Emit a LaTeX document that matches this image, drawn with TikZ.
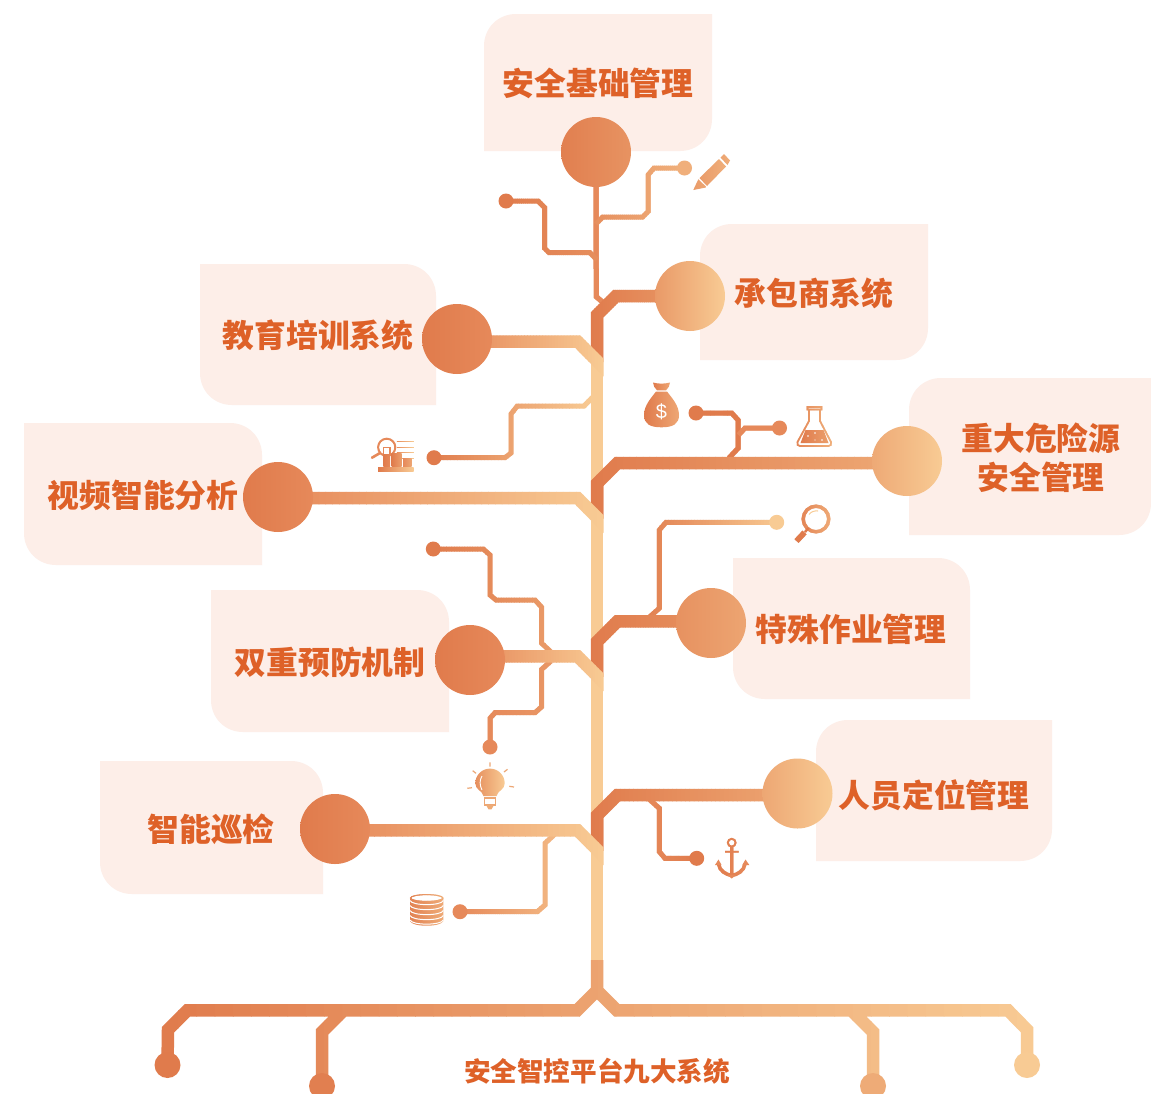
\documentclass[tikz,border=0pt]{standalone}
\usepackage{fontspec}
\newfontfamily\cjk{Noto Sans CJK SC}
\setsansfont{Liberation Sans}
\definecolor{cdark}{HTML}{E07B4C}
\definecolor{cmid}{HTML}{E6895A}
\definecolor{clight}{HTML}{F8CB94}
\definecolor{boxbg}{HTML}{FDEEE8}
\definecolor{txt}{HTML}{DE6128}
\pgfdeclarelayer{bg}
\pgfdeclarelayer{lines}
\pgfsetlayers{bg,lines,main}
\newcommand{\gradstroke}[6]{%
  \pgfmathsetmacro\gsdx{(#2-#1)/48}%
  \foreach \gsi in {0,...,47}{%
    \pgfmathsetmacro\gsa{#1+\gsi*\gsdx}%
    \pgfmathsetmacro\gsb{\gsa+\gsdx+(\gsi<47?0.6:0)}%
    \pgfmathsetmacro\gsp{(\gsi+.5)/48*100}%
    \colorlet{gscol}{#4!\gsp!#3}%
    \begin{scope}
      \clip (\gsa,-50) rectangle (\gsb,1200);
      \draw[gscol,line width=#5,miter limit=10] #6;
    \end{scope}%
  }}
% leaf boxes: x0 y0 x1 y1
\newcommand{\leafA}[4]{% top-left and bottom-right rounded
  \fill[boxbg] (#1,#4) -- (#1,{#2+32}) .. controls (#1,{#2+14}) and ({#1+14},#2) .. ({#1+32},#2)
   -- (#3,#2) -- (#3,{#4-32}) .. controls (#3,{#4-14}) and ({#3-14},#4) .. ({#3-32},#4) -- cycle;}
\newcommand{\leafB}[4]{% top-right and bottom-left rounded
  \fill[boxbg] (#1,#2) -- ({#3-32},#2) .. controls ({#3-14},#2) and (#3,{#2+14}) .. (#3,{#2+32})
   -- (#3,#4) -- ({#1+32},#4) .. controls ({#1+14},#4) and (#1,{#4-14}) .. (#1,{#4-32}) -- cycle;}
\tikzset{
  label/.style={text=txt,font=\cjk\bfseries\fontsize{31.8}{39}\selectfont,align=center,inner sep=0},
  hub/.style={circle,inner sep=0,outer sep=0,minimum size=70},
  dotend/.style={circle,inner sep=0,outer sep=0,minimum size=15},
  footdot/.style={circle,inner sep=0,outer sep=0,minimum size=26}
}
\begin{document}
\begin{tikzpicture}[x=1pt,y=-1pt]
\useasboundingbox (0,0) rectangle (1151,1093);
\begin{pgfonlayer}{bg}
\fill[white] (0,0) rectangle (1151,1093);
\leafA{484}{14}{712}{151}
\leafA{700}{224}{928}{360}
\leafB{200}{264}{436}{405}
\leafB{24}{423}{262}{565}
\leafA{909}{378}{1151}{535}
\leafB{733}{558}{970}{699}
\leafB{211}{590}{449}{732}
\leafA{816}{720}{1052}{861}
\leafB{100}{761}{323}{894}
\end{pgfonlayer}
% labels
\node[label] (t1) at (598,83) {安全基础管理};
\node[label] (t2) at (814,293) {承包商系统};
\node[label] (t3) at (318,335) {教育培训系统};
\node[label] (t4) at (143,495) {视频智能分析};
\node[label] (t5) at (1041,457.5) {重大危险源\\安全管理};
\node[label] (t6) at (851,629) {特殊作业管理};
\node[label] (t7) at (330,662) {双重预防机制};
\node[label] (t8) at (934,795) {人员定位管理};
\node[label] (t9) at (211,829) {智能巡检};
\node[text=txt,font=\cjk\bfseries\fontsize{26.6}{30}\selectfont,inner sep=0] (t0) at (597,1071) {安全智控平台九大系统};
% hubs
\node[hub,left color=cdark!95!clight,right color=cdark!70!clight] (hTop) at (596,152) {};
\node[hub,left color=cdark!62!clight,right color=clight] (hContract) at (690,296) {};
\node[hub,left color=cdark,right color=cmid] (hEdu) at (457,339) {};
\node[hub,left color=cdark,right color=cmid] (hVideo) at (278,497) {};
\node[hub,left color=cdark!42!clight,right color=clight] (hMajor) at (907,461) {};
\node[hub,left color=cdark!72!clight,right color=cdark!48!clight] (hSpecial) at (711,623) {};
\node[hub,left color=cdark,right color=cmid] (hPrevent) at (470,660) {};
\node[hub,left color=cdark!45!clight,right color=clight] (hPerson) at (797.5,793.5) {};
\node[hub,left color=cdark,right color=cmid] (hPatrol) at (335,829) {};
% small dots
\node[dotend,fill=cdark] (dA) at (506,201) {};
\node[dotend,fill=cdark!35!clight] (dB) at (684.5,168) {};
\node[dotend,fill=cdark] (dChart) at (434,457.7) {};
\node[dotend,fill=cdark] (dMoney) at (696,413) {};
\node[dotend,fill=cmid] (dFlask) at (779.5,428) {};
\node[dotend,fill=clight] (dSearch) at (776.7,522.3) {};
\node[dotend,fill=cdark] (dUp) at (433.3,549) {};
\node[dotend,fill=cmid] (dBulb) at (490,747) {};
\node[dotend,fill=cdark] (dAnchor) at (696.7,858.3) {};
\node[dotend,fill=cmid] (dCoins) at (460,911.7) {};
% foot dots
\node[footdot,fill=cdark] (f1) at (167.5,1065) {};
\node[footdot,fill=cdark!95!clight] (f2) at (322,1086) {};
\node[footdot,fill=cdark!40!clight] (f3) at (873,1086) {};
\node[footdot,fill=clight] (f4) at (1027,1065) {};
% junction coordinates
\coordinate (trunkTop) at (597,362);
\coordinate (trunkBot) at (597,960);
\begin{pgfonlayer}{lines}
% thin twigs
\gradstroke{590}{610}{cmid}{cmid}{5}{(hTop.center) -- (596.3,296.7) -- (606,305)}
\gradstroke{498}{599}{cdark}{cdark!75!clight}{5}{(dA.center) -- (538,201) -- (544.5,207.5) -- (544.5,248) -- (549,252.7) -- (590,252.7) -- (597,260)}
\gradstroke{594}{690}{cdark!75!clight}{cdark!40!clight}{5}{(dB.center) -- (654,168) -- (648,175) -- (648,211.7) -- (642.7,217) -- (602.7,217) -- (596,224)}
\gradstroke{430}{593}{cdark}{clight}{5}{(dChart.center) -- (505,457.7) -- (511,453) -- (511,414) -- (517.3,406) -- (584,406) -- (593,397)}
\gradstroke{690}{741}{cdark}{cdark}{5}{(dMoney.center) -- (731.7,413) -- (738,420) -- (738,448.3) -- (729,458)}
\gradstroke{737}{785}{cmid}{cmid}{5}{(dFlask.center) -- (745,428) -- (738.5,435)}
\gradstroke{645}{784}{cdark!95!clight}{clight}{5}{(dSearch.center) -- (666,522.3) -- (659.3,530) -- (659.3,608.3) -- (649.5,617)}
\gradstroke{428}{553}{cdark}{cdark!60!clight}{5}{(dUp.center) -- (483.3,549) -- (490,555) -- (490,595) -- (496,600) -- (535,600) -- (541.7,607.3) -- (541.7,643.3) -- (551,652)}
\gradstroke{485}{553}{cmid}{cdark!65!clight}{5}{(dBulb.center) -- (490,718.3) -- (495,712.7) -- (535,712.7) -- (541.7,706.7) -- (541.7,669.3) -- (551,661)}
\gradstroke{645}{700}{cmid}{cdark}{5}{(dAnchor.center) -- (665,858.3) -- (659.3,851.7) -- (659.3,808.3) -- (649,799)}
\gradstroke{455}{556}{cmid}{clight!70!cmid}{5}{(dCoins.center) -- (537.3,911.7) -- (545,905) -- (545,843.3) -- (555,834)}
% light trunk
\draw[clight,line width=12.5] (trunkTop) -- (trunkBot);
% right branches
\gradstroke{590}{690}{cdark}{cdark!62!clight}{12.5}{(hContract.center |- 0,296) -- (616,296) -- (597,315) -- (597,362)}
\gradstroke{590}{907}{cdark}{cdark!42!clight}{12.5}{(hMajor.center |- 0,463) -- (617.5,463) -- (597,483.5) -- (597,518.5)}
\gradstroke{590}{711}{cdark}{cdark!72!clight}{12.5}{(hSpecial.center |- 0,621.3) -- (617.5,621.3) -- (597,641.8) -- (597,676.8)}
\gradstroke{590}{797.5}{cdark}{cdark!45!clight}{12.5}{(hPerson.center |- 0,795) -- (617.5,795) -- (597,815.5) -- (597,850.8)}
% left branches
\gradstroke{457}{603.5}{cmid}{clight}{12.5}{(hEdu.center |- 0,341.5) -- (577.6,341.5) -- (610,374)}
\gradstroke{278}{603.5}{cmid}{clight}{12.5}{(hVideo.center |- 0,498) -- (577.6,498) -- (610,530.5)}
\gradstroke{470}{603.5}{cmid}{clight}{12.5}{(hPrevent.center |- 0,656.3) -- (577.6,656.3) -- (610,688.8)}
\gradstroke{335}{603.5}{cmid}{clight}{12.5}{(hPatrol.center |- 0,830.3) -- (577.6,830.3) -- (610,862.8)}
% foot
\gradstroke{160}{1035}{cdark}{clight}{12.5}{(f1.center) -- (168,1029.7) -- (187.4,1010.3) -- (577.2,1010.3) -- (597,990.5) -- (616.8,1010.3) -- (1008,1010.3) -- (1027,1029.7) -- (f4.center)
  (597,990.5) -- (trunkBot)
  (f2.center) -- (322,1032) -- (345,1009)
  (f3.center) -- (873,1032) -- (850,1009)}
\end{pgfonlayer}
% ---- icons ----
% pencil
\shade[left color=cdark!60!clight,right color=cdark!45!clight] (693.3,190) -- (698.3,179.3) -- (706.7,187.3) -- cycle;
\shade[left color=cdark!60!clight,right color=cdark!35!clight] (699.5,178) -- (719,159) -- (726,166.5) -- (707,186) -- cycle;
\shade[left color=cdark!50!clight,right color=cdark!35!clight] (720.5,157.5) -- (724,154) -- (730,160.5) -- (727.5,165) -- cycle;
% money bag
\shade[left color=cdark,right color=clight!45!cmid] (656,391.5) .. controls (652,397) and (644,405) .. (644,415) .. controls (644,424) and (650,427.3) .. (661.5,427.3) .. controls (673,427.3) and (679,424) .. (679,415) .. controls (679,405) and (671,397) .. (667,391.5) -- cycle;
\shade[left color=cdark,right color=clight!45!cmid] (653,382.5) .. controls (658,384) and (665,384) .. (670,382.5) .. controls (670,386) and (668,388) .. (666,390.3) -- (657,390.3) .. controls (655,388) and (653,386) .. (653,382.5) -- cycle;
\node[text=white,font=\sffamily\fontsize{20}{20}\selectfont,inner sep=0] (money) at (661.5,411.5) {\$};
% flask
\gradstroke{796}{832}{cdark!85!clight}{cdark!40!clight}{1.6}{(809,409.5) -- (809,421) -- (797.5,442) .. controls (796.5,444.5) and (798,446) .. (800,446) -- (828.5,446) .. controls (830.5,446) and (832,444.5) .. (831,442) -- (820,421) -- (820,409.5) (807.5,407) -- (821.5,407) -- (821.5,409.5) -- (807.5,409.5) -- cycle}
\shade[left color=cdark,right color=cdark!55!clight] (805.5,430) -- (823.5,430) -- (828.5,443) -- (800.5,443) -- cycle;
\fill[white] (808,436) circle (0.9) (815,433) circle (0.9) (822,440) circle (0.9) (815,440) circle (0.7);
% search magnifier
\gradstroke{792}{832}{cdark}{clight!50!cmid}{3.4}{(816,519) circle (12.8)}
\gradstroke{792}{832}{cdark}{cdark}{2.2}{(808.5,528) -- (805,532)}
\gradstroke{792}{832}{cdark}{cdark}{5.5}{(804.5,532.5) -- (796.5,541)}
\draw[clight,line width=1] (809,514.5) .. controls (811,511.5) and (815,510.5) .. (818,511);
% chart icon
\draw[cmid,line width=2.2] (386.7,447.3) circle (8.5);
\draw[cmid,line width=2.6,line cap=round] (380,453) -- (372,457.7);
\fill[white] (386.7,447.3) circle (7.3);
\gradstroke{396}{414}{cmid}{clight}{0.9}{(396.7,441.7) -- (413.7,441.7) (396.7,447.3) -- (413.7,447.3) (396.7,452.7) -- (413.7,452.7) (401,458) -- (413.7,458)}
\draw[cmid,line width=1.2] (383.8,454) -- (383.8,447.5) -- (390,447.5) -- (390,454);
\shade[left color=cdark,right color=cmid] (383.3,454) rectangle (390,466.7);
\shade[left color=cdark,right color=cdark!55!clight] (391.7,453.3) rectangle (401.7,466.7);
\shade[left color=cmid,right color=cdark!45!clight] (403,458) rectangle (411.7,466.7);
\shade[left color=cdark,right color=clight] (378,467.7) rectangle (413.5,471.7);
% bulb
\shade[left color=cdark!75!clight,right color=clight] (483.5,796) .. controls (482,790) and (475.3,790) .. (475.3,783.3) .. controls (475.3,775) and (482,768.6) .. (490,768.6) .. controls (498,768.6) and (504.7,775) .. (504.7,783.3) .. controls (504.7,790) and (498,790) .. (496.5,796) -- cycle;
\draw[white,line width=0.9] (482,776) .. controls (479.5,780) and (479.5,785) .. (482,790);
\draw[cdark!45!clight,line width=1.3] (484.5,798) rectangle (495.5,805);
\fill[cdark!40!clight] (486,805) -- (494,805) -- (491.5,809.3) -- (488.5,809.3) -- cycle;
\draw[cdark!45!clight,line width=1.2] (490,762.3) -- (490,766.7) (472.7,770.7) -- (476,773.3) (507.5,769.3) -- (504,772) (467.3,788.3) -- (472,787.7) (514,787) -- (509.3,786.3);
% anchor
\gradstroke{714}{750}{cdark}{cmid}{1.8}{(731.7,842.7) circle (3.9) (725,851.7) -- (738.5,851.7)}
\gradstroke{714}{750}{cdark}{cmid}{3.4}{(731.7,846.5) -- (731.7,875) (718.5,864) .. controls (719.5,871) and (726,874.5) .. (731.7,875.5) .. controls (737.5,874.5) and (744,871) .. (745,864)}
\fill[cmid] (715,865) -- (718.5,859.5) -- (721.5,865) -- cycle (742.3,865) -- (745.5,859.5) -- (749.3,865) -- cycle (727.5,875) -- (731.7,878.5) -- (736,875) -- cycle;
% coins
\shade[left color=cdark!90!clight,right color=cdark!40!clight] (410,898) -- (410,921) .. controls (412,927.3) and (441.3,927.3) .. (443.3,921) -- (443.3,898) -- cycle;
\foreach \cy in {900.5,905.5,910.5,915.5,920}{
  \draw[white,line width=1] (410,\cy) .. controls (412,{\cy+5.5}) and (441.3,{\cy+5.5}) .. (443.3,\cy);
}
\fill[white] (426.7,898) ellipse (16.2 and 3.4);
\gradstroke{409}{444}{cdark!90!clight}{cdark!40!clight}{1}{(426.7,898) ellipse (16.2 and 3.4)}
\end{tikzpicture}
\end{document}
